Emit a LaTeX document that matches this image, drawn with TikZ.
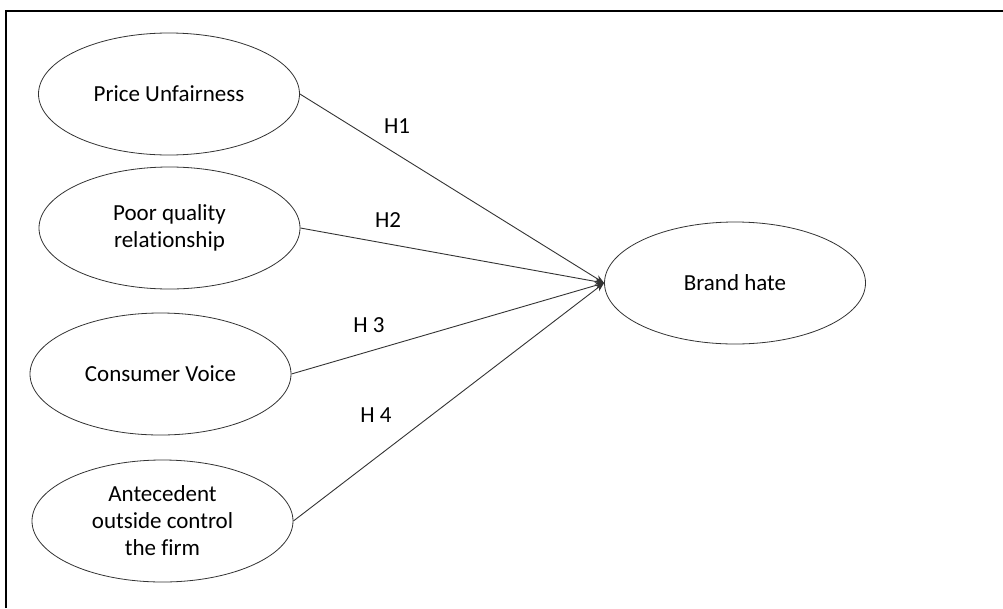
\documentclass[tikz,border=0pt]{standalone}
\usepackage{fontspec}
\setmainfont[Ligatures=NoCommon]{Carlito}
\usetikzlibrary{shapes.geometric,arrows.meta}
\begin{document}
\begin{tikzpicture}[x=1pt,y=-1pt,
  ovalnode/.style={draw=black!80,line width=0.8pt,ellipse,minimum width=261pt,minimum height=122pt,inner sep=0pt,align=center,font=\fontsize{23}{27}\selectfont},
  link/.style={draw=black!80,line width=0.9pt,-{Stealth[length=9pt,width=7pt]}},
  hlabel/.style={font=\fontsize{23}{26}\selectfont,inner sep=0pt}]
\useasboundingbox (0,0) rectangle (1003,608);
\draw[line width=2pt] (6,608) -- (6,11) -- (1003,11);
\node[ovalnode] (pu) at (169,94) {Price Unfairness};
\node[ovalnode] (pq) at (169.5,228) {Poor quality\\relationship};
\node[ovalnode] (cv) at (160.5,374) {Consumer Voice};
\node[ovalnode] (ao) at (162.5,521) {Antecedent\\outside control\\the firm};
\node[ovalnode] (bh) at (735,283) {Brand hate};
\draw[link] (pu.east) -- (bh.west);
\draw[link] (pq.east) -- (bh.west);
\draw[link] (cv.east) -- (bh.west);
\draw[link] (ao.east) -- (bh.west);
\node[hlabel] (h1) at (397,126) {H1};
\node[hlabel] (h2) at (388,220) {H2};
\node[hlabel] (h3) at (369,325) {H 3};
\node[hlabel] (h4) at (376,415) {H 4};
\end{tikzpicture}
\end{document}
